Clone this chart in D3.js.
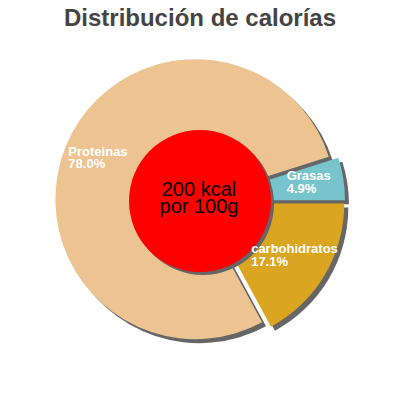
<!DOCTYPE html>
<html>
<head>
<meta charset="utf-8">
<script src="https://cdn.jsdelivr.net/npm/d3@7"></script>
<style>
  body { margin: 0; background: #fff; }
  svg { display: block; font-family: "Liberation Sans", Arial, sans-serif; }
</style>
</head>
<body>
<svg id="chart" width="400" height="400"></svg>
<script>
// data, in drawing order (clockwise from 3 o'clock)
const labels = ['carbohidratos', 'Proteinas', 'Grasas'];
const percents = [17.1, 78.0, 4.9];
const colors = ['#daa520', '#edc491', '#78c4cc'];
const title = 'Distribución de calorías';
const centerLines = ['200 kcal', 'por 100g'];

const width = 400, height = 400;
const cx = 200, cy = 201;
const radius = 140, holeRadius = 71, explode = 5;

const svg = d3.select('#chart');

// title
svg.append('text')
  .attr('x', width / 2)
  .attr('y', 26)
  .attr('text-anchor', 'middle')
  .attr('font-size', '24px')
  .attr('font-weight', 'bold')
  .attr('fill', '#444')
  .text(title);

const data = labels.map((l, i) => ({label: l, value: percents[i], color: colors[i]}));

const pie = d3.pie()
  .sort(null)
  .value(d => d.value)
  .startAngle(Math.PI / 2)
  .endAngle(Math.PI / 2 + 2 * Math.PI);

const arcs = pie(data);
const arc = d3.arc().innerRadius(0).outerRadius(radius);
const labelArc = d3.arc().innerRadius(105).outerRadius(105);

// push each slice out along its middle
const shift = d => {
  const a = (d.startAngle + d.endAngle) / 2;
  return [Math.sin(a) * explode, -Math.cos(a) * explode];
};

const g = svg.append('g').attr('transform', `translate(${cx},${cy})`);

// shadows first
g.selectAll('path.shadow')
  .data(arcs)
  .join('path')
  .attr('class', 'shadow')
  .attr('d', arc)
  .attr('fill', '#666')
  .attr('transform', d => { const s = shift(d); return `translate(${s[0] + 4},${s[1] + 4})`; });

g.selectAll('path.slice')
  .data(arcs)
  .join('path')
  .attr('class', 'slice')
  .attr('d', arc)
  .attr('fill', d => d.data.color)
  .attr('transform', d => { const s = shift(d); return `translate(${s[0]},${s[1]})`; });

// center disc with its shadow
g.append('circle').attr('cx', 3).attr('cy', 3).attr('r', holeRadius).attr('fill', '#666');
g.append('circle').attr('r', holeRadius).attr('fill', '#ff0000');

const ct = g.append('text')
  .attr('text-anchor', 'middle')
  .attr('font-size', '20px')
  .attr('fill', '#000');
ct.append('tspan').attr('x', -1).attr('y', -5).text(centerLines[0]);
ct.append('tspan').attr('x', -1).attr('y', 12).text(centerLines[1]);

// slice labels, left aligned, name centred on the label point
const lab = g.selectAll('text.lab')
  .data(arcs)
  .join('text')
  .attr('class', 'lab')
  .attr('font-size', '13px')
  .attr('font-weight', 'bold')
  .attr('fill', '#fff');
lab.append('tspan').attr('class', 'name').attr('y', -4).text(d => d.data.label);
lab.append('tspan').attr('class', 'pct').attr('y', 8.5).text(d => d.data.value.toFixed(1) + '%');

lab.each(function(d) {
  const t = d3.select(this);
  const w = Math.max(t.select('.name').node().getComputedTextLength(),
                     t.select('.pct').node().getComputedTextLength());
  const c = labelArc.centroid(d), s = shift(d);
  t.attr('transform', `translate(${c[0] + s[0]},${c[1] + s[1]})`);
  t.selectAll('tspan').attr('x', -w / 2);
});
</script>
</body>
</html>
